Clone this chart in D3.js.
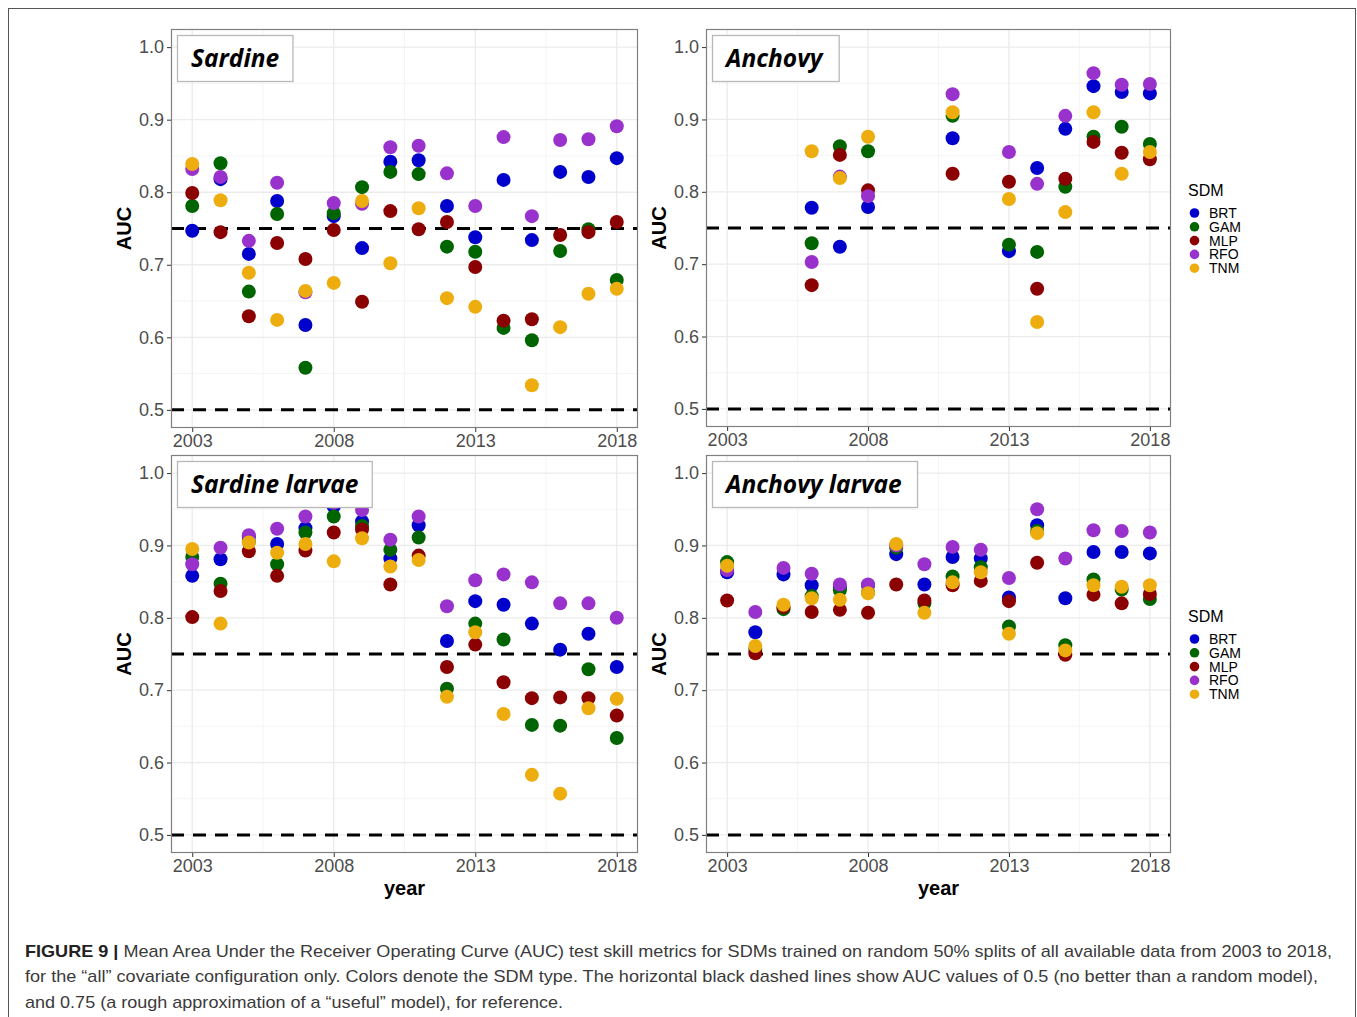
<!DOCTYPE html>
<html>
<head>
<meta charset="utf-8">
<script src="https://cdn.jsdelivr.net/npm/d3@7"></script>
<style>
  html, body { margin: 0; padding: 0; background: #fff; }
  svg { display: block; }
</style>
</head>
<body>
<svg id="fig" width="1357" height="1017"></svg>
<script>
// ---------------- DATA ----------------
const years = [2003,2004,2005,2006,2007,2008,2009,2010,2011,2012,2013,2014,2015,2016,2017,2018];
const models = ["BRT","GAM","MLP","RFO","TNM"];
const modelColors = ["#0000CD","#006400","#8B0000","#9932CC","#EEAD0E"];
const xTicks = [2003, 2008, 2013, 2018];
const yTicks = [0.5, 0.6, 0.7, 0.8, 0.9, 1.0];
const refLines = [0.5, 0.75];
const panelTitles = ["Sardine", "Anchovy", "Sardine larvae", "Anchovy larvae"];

// Sardine
const sardineBRT = [0.747,0.818,0.715,0.788,0.617,0.767,0.723,0.842,0.844,0.781,0.738,0.817,0.734,0.828,0.821,0.847];
const sardineGAM = [0.781,0.840,0.663,0.770,0.558,0.771,0.807,0.828,0.825,0.725,0.718,0.613,0.596,0.719,0.749,0.679];
const sardineMLP = [0.799,0.745,0.629,0.730,0.708,0.748,0.649,0.774,0.749,0.759,0.697,0.623,0.625,0.741,0.745,0.759];
const sardineRFO = [0.832,0.821,0.733,0.813,0.662,0.785,0.784,0.862,0.864,0.826,0.781,0.876,0.767,0.872,0.873,0.891];
const sardineTNM = [0.839,0.789,0.689,0.624,0.664,0.675,0.788,0.702,0.778,0.654,0.642,null,0.534,0.614,0.660,0.667];

// Anchovy
const anchovyBRT = [null,null,null,0.778,0.724,0.779,null,null,0.874,null,0.718,0.833,0.887,0.946,0.938,0.936];
const anchovyGAM = [null,null,null,0.729,0.863,0.856,null,null,0.905,null,0.727,0.717,0.807,0.876,0.890,0.866];
const anchovyMLP = [null,null,null,0.671,0.851,0.802,null,null,0.825,null,0.814,0.666,0.818,0.869,0.854,0.845];
const anchovyRFO = [null,null,null,0.703,0.821,0.794,null,null,0.935,null,0.855,0.811,0.905,0.964,0.948,0.949];
const anchovyTNM = [null,null,null,0.856,0.819,0.876,null,null,0.910,null,0.790,0.620,0.772,0.910,0.825,0.855];

// Sardine larvae
const sardineLarvaeBRT = [0.858,0.881,0.912,0.902,0.924,0.954,0.933,0.882,0.928,0.768,0.823,0.818,0.792,0.756,0.778,0.732];
const sardineLarvaeGAM = [0.884,0.847,0.905,0.874,0.918,0.940,0.927,0.894,0.911,0.702,0.792,0.770,0.652,0.651,0.729,0.634];
const sardineLarvaeMLP = [0.801,0.837,0.892,0.858,0.893,0.918,0.922,0.846,0.886,0.732,0.763,0.711,0.689,0.690,0.689,0.665];
const sardineLarvaeRFO = [0.874,0.897,0.914,0.923,0.940,0.959,0.949,0.908,0.940,0.816,0.852,0.860,0.849,0.820,0.820,0.800];
const sardineLarvaeTNM = [0.895,0.792,0.904,0.890,0.902,0.878,0.910,0.871,0.880,0.691,0.780,0.667,0.583,0.557,0.675,0.688];

// Anchovy larvae
const anchovyLarvaeBRT = [0.863,0.780,0.860,0.845,0.842,0.845,0.888,0.846,0.884,0.882,0.828,0.928,0.827,0.891,0.891,0.889];
const anchovyLarvaeGAM = [0.877,0.757,0.812,0.830,0.838,0.835,0.897,0.820,0.857,0.870,0.788,0.920,0.762,0.853,0.839,0.826];
const anchovyLarvaeMLP = [0.824,0.751,0.815,0.808,0.811,0.807,0.846,0.824,0.845,0.851,0.823,0.876,0.749,0.832,0.820,0.833];
const anchovyLarvaeRFO = [0.866,0.808,0.869,0.861,0.846,0.846,0.900,0.874,0.898,0.894,0.855,0.950,0.882,0.921,0.920,0.918];
const anchovyLarvaeTNM = [0.872,0.761,0.818,0.827,0.825,0.834,0.902,0.807,0.849,0.863,0.778,0.917,0.755,0.845,0.843,0.845];

const captionBold = "FIGURE 9 |";
const captionLines = [
  " Mean Area Under the Receiver Operating Curve (AUC) test skill metrics for SDMs trained on random 50% splits of all available data from 2003 to 2018,",
  "for the \u201Call\u201D covariate configuration only. Colors denote the SDM type. The horizontal black dashed lines show AUC values of 0.5 (no better than a random model),",
  "and 0.75 (a rough approximation of a \u201Cuseful\u201D model), for reference."
];

// ---------------- LAYOUT ----------------
const panelSeries = [
  [sardineBRT, sardineGAM, sardineMLP, sardineRFO, sardineTNM],
  [anchovyBRT, anchovyGAM, anchovyMLP, anchovyRFO, anchovyTNM],
  [sardineLarvaeBRT, sardineLarvaeGAM, sardineLarvaeMLP, sardineLarvaeRFO, sardineLarvaeTNM],
  [anchovyLarvaeBRT, anchovyLarvaeGAM, anchovyLarvaeMLP, anchovyLarvaeRFO, anchovyLarvaeTNM]
];
const panelBoxes = [
  {x0:171, x1:638, y0:29,  y1:428, legend:false},
  {x0:706, x1:1171, y0:29, y1:427, legend:true, legendY:190},
  {x0:171, x1:638, y0:455, y1:853, legend:false},
  {x0:706, x1:1171, y0:455, y1:853, legend:true, legendY:616}
];

const svg = d3.select("#fig");
const FONT = "'Liberation Sans', Arial, Helvetica, sans-serif";

// outer frame
svg.append("rect").attr("x", 8.5).attr("y", 8.5).attr("width", 1347).attr("height", 1030)
  .attr("fill", "none").attr("stroke", "#555").attr("stroke-width", 1);

panelBoxes.forEach((b, pi) => {
  const g = svg.append("g");
  const x = d3.scaleLinear().domain([2002.25, 2018.75]).range([b.x0, b.x1]);
  const y = d3.scaleLinear().domain([0.475, 1.025]).range([b.y1, b.y0]);

  // background
  g.append("rect").attr("x", b.x0).attr("y", b.y0).attr("width", b.x1 - b.x0).attr("height", b.y1 - b.y0)
    .attr("fill", "#fff");

  // minor grid
  const minorX = [2005.5, 2010.5, 2015.5];
  const minorY = [0.55, 0.65, 0.75, 0.85, 0.95];
  g.selectAll(".mgx").data(minorX).join("line")
    .attr("x1", d => x(d)).attr("x2", d => x(d)).attr("y1", b.y0).attr("y2", b.y1)
    .attr("stroke", "#f2f2f2").attr("stroke-width", 0.8);
  g.selectAll(".mgy").data(minorY).join("line")
    .attr("y1", d => y(d)).attr("y2", d => y(d)).attr("x1", b.x0).attr("x2", b.x1)
    .attr("stroke", "#f2f2f2").attr("stroke-width", 0.8);
  // major grid
  g.selectAll(".gx").data(xTicks).join("line")
    .attr("x1", d => x(d)).attr("x2", d => x(d)).attr("y1", b.y0).attr("y2", b.y1)
    .attr("stroke", "#ebebeb").attr("stroke-width", 1.3);
  g.selectAll(".gy").data(yTicks).join("line")
    .attr("y1", d => y(d)).attr("y2", d => y(d)).attr("x1", b.x0).attr("x2", b.x1)
    .attr("stroke", "#ebebeb").attr("stroke-width", 1.3);

  // reference dashed lines
  g.selectAll(".ref").data(refLines).join("line")
    .attr("x1", b.x0).attr("x2", b.x1).attr("y1", d => y(d)).attr("y2", d => y(d))
    .attr("stroke", "#000").attr("stroke-width", 3).attr("stroke-dasharray", "13,9");

  // points (order BRT, GAM, MLP, RFO, TNM)
  panelSeries[pi].forEach((vals, mi) => {
    const pts = years.map((yr, i) => ({yr, v: vals[i]})).filter(d => d.v !== null);
    g.selectAll(".p" + mi).data(pts).join("circle")
      .attr("cx", d => x(d.yr)).attr("cy", d => y(d.v)).attr("r", 7)
      .attr("fill", modelColors[mi]);
  });

  // panel border
  g.append("rect").attr("x", b.x0 + 0.5).attr("y", b.y0 + 0.5)
    .attr("width", b.x1 - b.x0 - 1).attr("height", b.y1 - b.y0 - 1)
    .attr("fill", "none").attr("stroke", "#808080").attr("stroke-width", 1.2);

  // axes
  const yAxis = d3.axisLeft(y).tickValues(yTicks).tickFormat(d3.format(".1f")).tickSize(4).tickPadding(3);
  const ya = g.append("g").attr("transform", `translate(${b.x0},0)`).call(yAxis);
  ya.select(".domain").remove();
  ya.selectAll(".tick line").attr("stroke", "#333");
  ya.selectAll(".tick text").attr("fill", "#4d4d4d").style("font-family", FONT).style("font-size", "18px");

  const xAxis = d3.axisBottom(x).tickValues(xTicks).tickFormat(d3.format("d")).tickSize(4).tickPadding(2);
  const xa = g.append("g").attr("transform", `translate(0,${b.y1})`).call(xAxis);
  xa.select(".domain").remove();
  xa.selectAll(".tick line").attr("stroke", "#333");
  xa.selectAll(".tick text").attr("fill", "#4d4d4d").style("font-family", FONT).style("font-size", "18px");

  // AUC label
  g.append("text")
    .attr("transform", `translate(${b.x0 - 47},${(b.y0 + b.y1) / 2}) rotate(-90)`)
    .attr("text-anchor", "middle").attr("dominant-baseline", "central")
    .style("font-family", FONT).style("font-weight", "bold").style("font-size", "20px")
    .attr("fill", "#000").text("AUC");

  // year label on bottom row
  if (pi >= 2) {
    g.append("text").attr("x", (b.x0 + b.x1) / 2).attr("y", b.y1 + 42)
      .attr("text-anchor", "middle")
      .style("font-family", FONT).style("font-weight", "bold").style("font-size", "20px")
      .attr("fill", "#000").text("year");
  }

  // title box
  const tb = g.append("g");
  const rectT = tb.append("rect").attr("fill", "#fff").attr("stroke", "#b8b8b8").attr("stroke-width", 1.3);
  const txt = tb.append("text")
    .attr("x", b.x0 + 20).attr("y", b.y0 + 38)
    .style("font-family", "'Open Sans', 'Noto Sans', sans-serif")
    .style("font-weight", "bold").style("font-style", "italic").style("font-size", "24.5px")
    .attr("fill", "#000").text(panelTitles[pi]);
  const bb = txt.node().getBBox();
  rectT.attr("x", b.x0 + 6.5).attr("y", b.y0 + 6.5)
    .attr("width", bb.width + 27).attr("height", 46);

  // legend
  if (b.legend) {
    const lx = b.x1 + 17;
    const lg = svg.append("g").attr("transform", `translate(${lx},${b.legendY})`);
    lg.append("text").attr("x", 0).attr("y", 6)
      .style("font-family", FONT).style("font-size", "16px").attr("fill", "#000").text("SDM");
    models.forEach((m, i) => {
      const cy = 23 + i * 13.8;
      lg.append("circle").attr("cx", 6.5).attr("cy", cy).attr("r", 4.8).attr("fill", modelColors[i]);
      lg.append("text").attr("x", 21).attr("y", cy + 5)
        .style("font-family", FONT).style("font-size", "14px").attr("fill", "#000").text(m);
    });
  }
});

// caption
const capG = svg.append("g");
const capTargets = [1307, 1293, 538];
captionLines.forEach((line, i) => {
  const t = capG.append("text").attr("x", 25).attr("y", 957 + i * 25.3)
    .style("font-family", FONT).style("font-size", "17px").attr("fill", "#3a3a3a");
  if (i === 0) {
    t.append("tspan").style("font-weight", "bold").attr("fill", "#222").text(captionBold);
  }
  t.append("tspan").text(line);
  t.attr("textLength", capTargets[i]).attr("lengthAdjust", "spacingAndGlyphs");
});
</script>
</body>
</html>
